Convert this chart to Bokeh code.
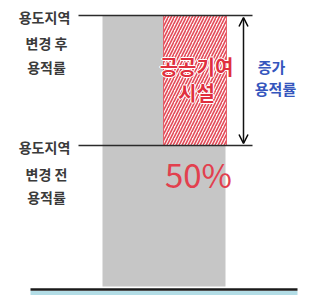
from bokeh.plotting import figure
from bokeh.models import Range1d, Arrow, OpenHead, ColumnDataSource
from bokeh.core.properties import value
from bokeh.embed import file_html
from bokeh.resources import INLINE

# schematic levels (height above ground line)
level_names = ["before", "after"]
levels = [144, 274]
ground = [0]
increase_label = ["50%"]
left_top_lines = ["용도지역", "변경 후", "용적률"]
left_bottom_lines = ["용도지역", "변경 전", "용적률"]
right_lines = ["증가", "용적률"]
red_lines = ["공공기여", "시설"]

FONT = value("Noto Sans CJK KR")

p = figure(width=311, height=295, output_backend="svg", toolbar_location=None,
           x_range=Range1d(0, 311), y_range=Range1d(-6, 289), min_border=0)
p.axis.visible = False
p.grid.visible = False
p.outline_line_color = None
p.background_fill_color = "white"
p.border_fill_color = "white"

before, after = levels
g = ground[0]

# gray total bar
p.quad(left=[102], right=[225], bottom=[g + 3], top=[after], fill_color="#c6c6c6", line_color=None)
# hatched public contribution part
p.quad(left=[163], right=[226], bottom=[before], top=[after], fill_color="#fdf4f5",
       line_color="#e34a57", line_width=0.8,
       hatch_pattern="right_diagonal_line", hatch_color="#e34a57", hatch_scale=6, hatch_weight=1.6)

# level lines
p.segment(x0=[78, 78], x1=[252, 252], y0=levels, y1=levels, line_color="#2b2b2b", line_width=1.6)

# double arrow
p.add_layout(Arrow(start=OpenHead(size=9, line_width=1.5), end=OpenHead(size=9, line_width=1.5),
                   x_start=243, y_start=before + 2, x_end=243, y_end=after - 2,
                   line_width=1.5, line_color="#111111"))

# ground
p.quad(left=[30], right=[297], bottom=[g - 6], top=[g - 1.5], fill_color="#b3dde6", line_color=None)
p.segment(x0=[30], x1=[297], y0=[g], y1=[g], line_color="#1a1a1a", line_width=2.5)


def lines(xs, ys, texts, color, size, **kw):
    src = ColumnDataSource(dict(x=xs, y=ys, t=texts))
    p.text(x="x", y="y", text="t", source=src, text_font=FONT, text_font_size=size,
           text_color=color, text_align="center", text_baseline="middle", **kw)


# left labels
lines([44, 46, 46], [after - 1, after - 27, after - 51], left_top_lines, "#3a3a3a", "14px", text_font_style="bold")
lines([44, 46, 46], [before - 1, before - 28, before - 51], left_bottom_lines, "#3a3a3a", "14px", text_font_style="bold")

# right blue
lines([271, 275], [after - 51, after - 73], right_lines, "#3556bd", "15px", text_font_style="bold")

# red texts (with white halo)
rx = [196, 196]
ry = [after - 51, after - 77]
for dx, dy in [(-1.2, 0), (1.2, 0), (0, -1.2), (0, 1.2)]:
    lines([x + dx for x in rx], [y + dy for y in ry], red_lines, "white", "20px", text_font_style="bold")
lines(rx, ry, red_lines, "#e0303f", "20px", text_font_style="bold")

# 50%
lines([198], [before - 28], increase_label, "#e2404e", "33px")

open("out.html", "w").write(file_html(p, INLINE))
